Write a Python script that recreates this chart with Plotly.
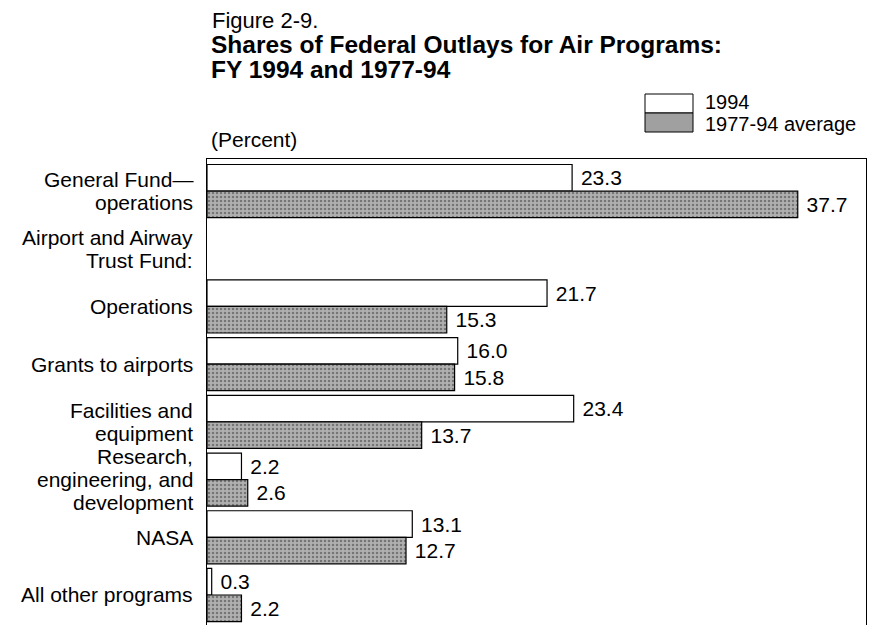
import plotly.graph_objects as go

# ---- data ----
categories = [
    "General Fund—<br>operations",
    "Airport and Airway<br>Trust Fund:",
    "Operations",
    "Grants to airports",
    "Facilities and<br>equipment",
    "Research,<br>engineering, and<br>development",
    "NASA",
    "All other programs",
]
values_1994 = [23.3, None, 21.7, 16.0, 23.4, 2.2, 13.1, 0.3]
values_avg = [37.7, None, 15.3, 15.8, 13.7, 2.6, 12.7, 2.2]
series_names = ["1994", "1977-94 average"]

FONT = "Liberation Sans, Arial, Helvetica, sans-serif"
W, H = 874, 625
ML, MR, MT, MB = 207, 8, 159, 0
PW, PH = W - ML - MR, H - MT - MB

ypos = list(range(len(categories)))


def fmt(vals):
    return ["" if v is None else "\u00a0" + f"{v:.1f}" for v in vals]


fig = go.Figure()
fig.add_trace(go.Bar(
    y=ypos, x=values_1994, orientation="h", name=series_names[0],
    marker=dict(color="white", line=dict(color="black", width=1.2)),
    text=fmt(values_1994), textposition="outside", cliponaxis=False,
    constraintext="none",
    textfont=dict(family=FONT, size=21, color="black"),
))
fig.add_trace(go.Bar(
    y=ypos, x=values_avg, orientation="h", name=series_names[1],
    marker=dict(color="#a8a8a8", line=dict(color="black", width=1.2),
                pattern=dict(shape=".", fgcolor="#3a3a3a", bgcolor="#b0b0b0",
                             size=4, solidity=0.3)),
    text=fmt(values_avg), textposition="outside", cliponaxis=False,
    constraintext="none",
    textfont=dict(family=FONT, size=21, color="black"),
))

annotations = []
# category labels, one annotation per line for tighter line spacing
LINE = 23.0 / 57.7  # line spacing in category units
for i, lab in enumerate(categories):
    lines = lab.split("<br>")
    n = len(lines)
    for j, ln in enumerate(lines):
        annotations.append(dict(
            x=-12 / PW, xref="paper", xanchor="right",
            y=i + (j - (n - 1) / 2) * LINE, yref="y", yanchor="middle",
            text=ln, showarrow=False,
            font=dict(family=FONT, size=21, color="black"),
        ))


def px_x(px):
    return (px - ML) / PW


def px_y(py):
    return (H - MB - py) / PH


annotations += [
    dict(x=px_x(210), y=px_y(20), xref="paper", yref="paper", xanchor="left",
         yanchor="middle", text="Figure 2-9.", showarrow=False,
         font=dict(family=FONT, size=22, color="black")),
    dict(x=px_x(209), y=px_y(45), xref="paper", yref="paper", xanchor="left",
         yanchor="middle", text="<b>Shares of Federal Outlays for Air Programs:</b>",
         showarrow=False, font=dict(family=FONT, size=24.5, color="black")),
    dict(x=px_x(209), y=px_y(69), xref="paper", yref="paper", xanchor="left",
         yanchor="middle", text="<b>FY 1994 and 1977-94</b>",
         showarrow=False, font=dict(family=FONT, size=24.5, color="black")),
    dict(x=px_x(209), y=px_y(140), xref="paper", yref="paper", xanchor="left",
         yanchor="middle", text="(Percent)", showarrow=False,
         font=dict(family=FONT, size=21, color="black")),
    dict(x=px_x(703), y=px_y(102), xref="paper", yref="paper", xanchor="left",
         yanchor="middle", text=series_names[0], showarrow=False,
         font=dict(family=FONT, size=20, color="black")),
    dict(x=px_x(703), y=px_y(123.5), xref="paper", yref="paper", xanchor="left",
         yanchor="middle", text=series_names[1], showarrow=False,
         font=dict(family=FONT, size=20, color="black")),
]

shapes = [
    dict(type="rect", xref="paper", yref="paper",
         x0=px_x(645), x1=px_x(693), y0=px_y(113), y1=px_y(94),
         fillcolor="white", line=dict(color="black", width=1)),
    dict(type="rect", xref="paper", yref="paper",
         x0=px_x(645), x1=px_x(693), y0=px_y(132), y1=px_y(113),
         fillcolor="#a0a0a0", line=dict(color="black", width=1)),
]

fig.update_layout(
    width=W, height=H,
    margin=dict(l=ML, r=MR, t=MT, b=MB),
    paper_bgcolor="white", plot_bgcolor="white",
    barmode="group", bargap=0.08, bargroupgap=0.0,
    showlegend=False,
    annotations=annotations, shapes=shapes,
    font=dict(family=FONT, color="black"),
    xaxis=dict(range=[0, PW / 15.67], side="top", showline=True,
               linecolor="black", linewidth=1, showgrid=False,
               showticklabels=False, ticks="", zeroline=False, fixedrange=True),
    yaxis=dict(range=[7.52, -0.555], showline=True, mirror=True,
               linecolor="black", linewidth=1, showgrid=False,
               showticklabels=False, ticks="", zeroline=False, fixedrange=True),
)

fig.write_html(
    "out.html",
    config={"displayModeBar": False},
    post_script="document.body.style.margin='0';document.body.style.overflow='hidden';",
)
